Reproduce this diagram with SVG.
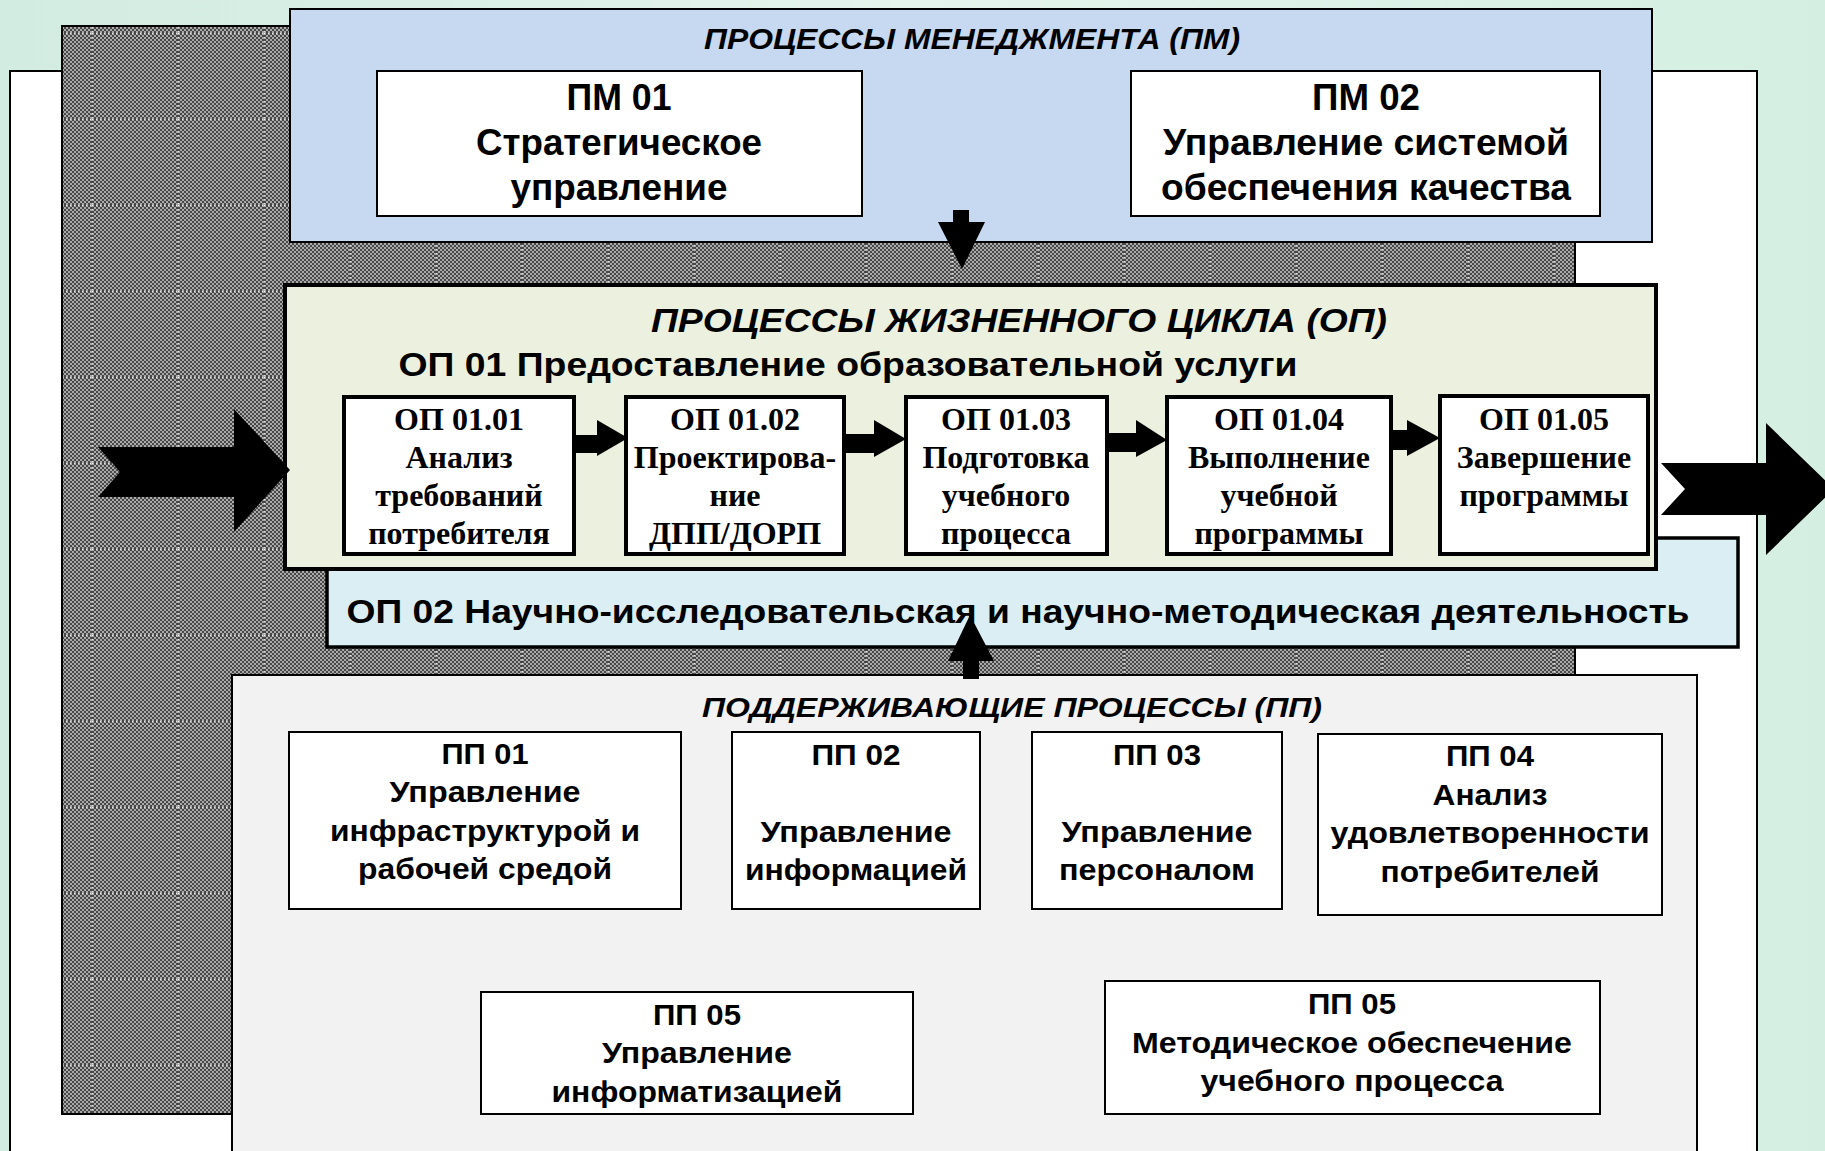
<svg xmlns="http://www.w3.org/2000/svg" width="1825" height="1151" viewBox="0 0 1825 1151">
<defs>
  <linearGradient id="bg" x1="0" y1="0" x2="1" y2="0">
    <stop offset="0" stop-color="#d3ece2"/>
    <stop offset="0.15" stop-color="#d6eee4"/>
    <stop offset="0.5" stop-color="#e6f5ed"/>
    <stop offset="1" stop-color="#d4efe2"/>
  </linearGradient>
  <pattern id="fine" width="4" height="4" patternUnits="userSpaceOnUse">
    <rect width="4" height="4" fill="#474747"/>
    <rect width="2" height="2" fill="#aaaaaa"/>
    <rect x="2" y="2" width="2" height="2" fill="#aaaaaa"/>
  </pattern>
  <pattern id="hatch" x="6" y="33" width="86" height="86" patternUnits="userSpaceOnUse">
    <rect width="86" height="86" fill="url(#fine)"/>
    <path d="M0.5 0V86M0 0.5H86" stroke="#ffffff" stroke-width="1" stroke-dasharray="1 3" stroke-opacity="0.7"/>
  </pattern>
  <style>
    .box{stroke:#000;stroke-width:2}
    .thick{stroke:#000;stroke-width:4}
    .w{fill:#fff}
    .a{font-family:"Liberation Sans",Arial,sans-serif;font-weight:bold;text-anchor:middle;fill:#000}
    .t{font-family:"Liberation Serif","Times New Roman",serif;font-weight:bold;font-size:32px;text-anchor:middle;fill:#000}
    .i{font-style:italic}
    .arr{fill:#000}
  </style>
</defs>

<rect width="1825" height="1151" fill="url(#bg)"/>

<g id="frame">
  <rect class="box w" x="10" y="71" width="1747" height="1100"/>
  <rect class="box" x="62" y="26" width="1513" height="1088" fill="url(#hatch)"/>
</g>

<g id="pm">
  <rect class="box" x="290" y="9" width="1362" height="233" fill="#c6d9f0"/>
  <text class="a i" x="972" y="49" font-size="30" textLength="536" lengthAdjust="spacingAndGlyphs">ПРОЦЕССЫ МЕНЕДЖМЕНТА (ПМ)</text>
</g>
<g id="pm01">
  <rect class="box w" x="377" y="71" width="485" height="145"/>
  <text class="a" x="619" y="110" font-size="36" textLength="105" lengthAdjust="spacingAndGlyphs">ПМ 01</text>
  <text class="a" x="619" y="155" font-size="36" textLength="286" lengthAdjust="spacingAndGlyphs">Стратегическое</text>
  <text class="a" x="619" y="200" font-size="36" textLength="217" lengthAdjust="spacingAndGlyphs">управление</text>
</g>
<g id="pm02">
  <rect class="box w" x="1131" y="71" width="469" height="145"/>
  <text class="a" x="1366" y="110" font-size="36" textLength="108" lengthAdjust="spacingAndGlyphs">ПМ 02</text>
  <text class="a" x="1366" y="155" font-size="36" textLength="406" lengthAdjust="spacingAndGlyphs">Управление системой</text>
  <text class="a" x="1366" y="200" font-size="36" textLength="410" lengthAdjust="spacingAndGlyphs">обеспечения качества</text>
</g>

<g id="op02">
  <rect x="327" y="538" width="1411" height="109" fill="#daeef3" stroke="#000" stroke-width="3.5"/>
  <text class="a" x="1018" y="623" font-size="34" textLength="1343" lengthAdjust="spacingAndGlyphs">ОП 02 Научно-исследовательская и научно-методическая деятельность</text>
</g>

<g id="op">
  <rect class="thick" x="285" y="285" width="1371" height="284" fill="#ebf1de"/>
  <text class="a i" x="1019" y="332" font-size="33" textLength="736" lengthAdjust="spacingAndGlyphs">ПРОЦЕССЫ ЖИЗНЕННОГО ЦИКЛА (ОП)</text>
  <text class="a" x="848" y="376" font-size="34" textLength="899" lengthAdjust="spacingAndGlyphs">ОП 01 Предоставление образовательной услуги</text>
</g>
<g id="op0101">
  <rect class="thick w" x="344" y="397" width="230" height="157"/>
  <text class="t" x="459" y="430">ОП 01.01</text>
  <text class="t" x="459" y="468">Анализ</text>
  <text class="t" x="459" y="506">требований</text>
  <text class="t" x="459" y="544">потребителя</text>
</g>
<g id="op0102">
  <rect class="thick w" x="626" y="397" width="218" height="157"/>
  <text class="t" x="735" y="430">ОП 01.02</text>
  <text class="t" x="735" y="468">Проектирова-</text>
  <text class="t" x="735" y="506">ние</text>
  <text class="t" x="735" y="544">ДПП/ДОРП</text>
</g>
<g id="op0103">
  <rect class="thick w" x="906" y="397" width="201" height="157"/>
  <text class="t" x="1006" y="430">ОП 01.03</text>
  <text class="t" x="1006" y="468">Подготовка</text>
  <text class="t" x="1006" y="506">учебного</text>
  <text class="t" x="1006" y="544">процесса</text>
</g>
<g id="op0104">
  <rect class="thick w" x="1167" y="397" width="224" height="157"/>
  <text class="t" x="1279" y="430">ОП 01.04</text>
  <text class="t" x="1279" y="468">Выполнение</text>
  <text class="t" x="1279" y="506">учебной</text>
  <text class="t" x="1279" y="544">программы</text>
</g>
<g id="op0105">
  <rect class="thick w" x="1440" y="396" width="208" height="158"/>
  <text class="t" x="1544" y="430">ОП 01.05</text>
  <text class="t" x="1544" y="468">Завершение</text>
  <text class="t" x="1544" y="506">программы</text>
</g>

<g id="pp">
  <rect class="box" x="232" y="675" width="1465" height="500" fill="#f2f2f2"/>
  <text class="a i" x="1012" y="717" font-size="28" textLength="620" lengthAdjust="spacingAndGlyphs">ПОДДЕРЖИВАЮЩИЕ ПРОЦЕССЫ (ПП)</text>
</g>
<g id="pp01">
  <rect class="box w" x="289" y="732" width="392" height="177"/>
  <text class="a" x="485" y="764" font-size="30" textLength="87" lengthAdjust="spacingAndGlyphs">ПП 01</text>
  <text class="a" x="485" y="802" font-size="30" textLength="191" lengthAdjust="spacingAndGlyphs">Управление</text>
  <text class="a" x="485" y="841" font-size="30" textLength="310" lengthAdjust="spacingAndGlyphs">инфраструктурой и</text>
  <text class="a" x="485" y="879" font-size="30" textLength="254" lengthAdjust="spacingAndGlyphs">рабочей средой</text>
</g>
<g id="pp02">
  <rect class="box w" x="732" y="732" width="248" height="177"/>
  <text class="a" x="856" y="765" font-size="30" textLength="89" lengthAdjust="spacingAndGlyphs">ПП 02</text>
  <text class="a" x="856" y="842" font-size="30" textLength="191" lengthAdjust="spacingAndGlyphs">Управление</text>
  <text class="a" x="856" y="880" font-size="30" textLength="222" lengthAdjust="spacingAndGlyphs">информацией</text>
</g>
<g id="pp03">
  <rect class="box w" x="1032" y="732" width="250" height="177"/>
  <text class="a" x="1157" y="765" font-size="30" textLength="88" lengthAdjust="spacingAndGlyphs">ПП 03</text>
  <text class="a" x="1157" y="842" font-size="30" textLength="191" lengthAdjust="spacingAndGlyphs">Управление</text>
  <text class="a" x="1157" y="880" font-size="30" textLength="196" lengthAdjust="spacingAndGlyphs">персоналом</text>
</g>
<g id="pp04">
  <rect class="box w" x="1318" y="734" width="344" height="181"/>
  <text class="a" x="1490" y="766" font-size="30" textLength="88" lengthAdjust="spacingAndGlyphs">ПП 04</text>
  <text class="a" x="1490" y="805" font-size="30" textLength="115" lengthAdjust="spacingAndGlyphs">Анализ</text>
  <text class="a" x="1490" y="843" font-size="30" textLength="319" lengthAdjust="spacingAndGlyphs">удовлетворенности</text>
  <text class="a" x="1490" y="882" font-size="30" textLength="219" lengthAdjust="spacingAndGlyphs">потребителей</text>
</g>
<g id="pp05a">
  <rect class="box w" x="481" y="992" width="432" height="122"/>
  <text class="a" x="697" y="1025" font-size="30" textLength="88" lengthAdjust="spacingAndGlyphs">ПП 05</text>
  <text class="a" x="697" y="1063" font-size="30" textLength="190" lengthAdjust="spacingAndGlyphs">Управление</text>
  <text class="a" x="697" y="1102" font-size="30" textLength="291" lengthAdjust="spacingAndGlyphs">информатизацией</text>
</g>
<g id="pp05b">
  <rect class="box w" x="1105" y="981" width="495" height="133"/>
  <text class="a" x="1352" y="1014" font-size="30" textLength="88" lengthAdjust="spacingAndGlyphs">ПП 05</text>
  <text class="a" x="1352" y="1053" font-size="30" textLength="440" lengthAdjust="spacingAndGlyphs">Методическое обеспечение</text>
  <text class="a" x="1352" y="1091" font-size="30" textLength="303" lengthAdjust="spacingAndGlyphs">учебного процесса</text>
</g>

<g id="connectors">
  <polygon class="arr" points="98,447 234,447 234,409 290,470 234,532 234,497 98,497 120,472"/>
  <polygon class="arr" points="1661,463 1766,463 1766,423 1834,489 1766,555 1766,515 1661,515 1685,489"/>
  <polygon class="arr" points="953,210 969,210 969,222 985,222 962,269 938,222 953,222"/>
  <polygon class="arr" points="970,615 994,661 979,661 979,679 963,679 963,661 948,661"/>
  <polygon class="arr" points="574,435 597,435 597,420 628,438 597,456 597,453 574,453"/>
  <polygon class="arr" points="845,434 874,434 874,420 906,439 874,457 874,453 845,453"/>
  <polygon class="arr" points="1107,433 1136,433 1136,420 1167,440 1136,457 1136,452 1107,452"/>
  <polygon class="arr" points="1391,430 1407,430 1407,420 1440,438 1407,456 1407,450 1391,450"/>
</g>
</svg>
